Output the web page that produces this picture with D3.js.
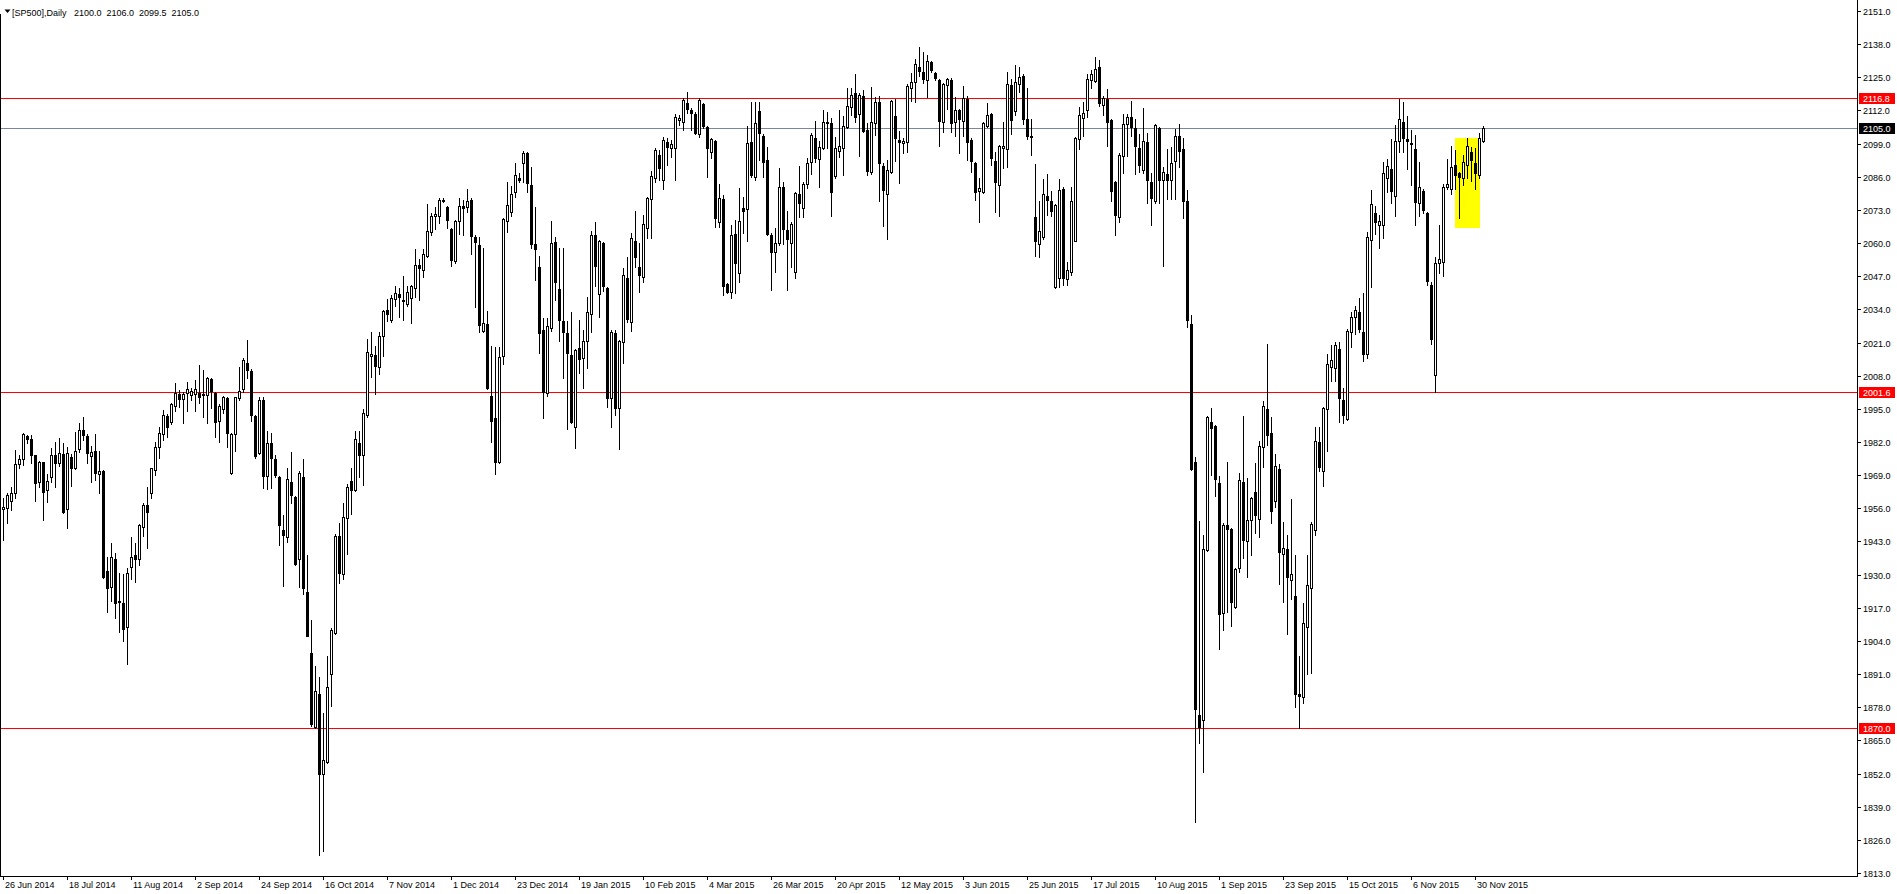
<!DOCTYPE html>
<html><head><meta charset="utf-8">
<script src="https://cdn.jsdelivr.net/npm/d3@7"></script>
<style>
html,body{margin:0;padding:0;background:#fff;overflow:hidden}
svg{display:block}
text{font-family:"Liberation Sans",Arial,sans-serif;font-size:9px;fill:#000}
</style></head><body>
<svg id="c" width="1897" height="894"></svg>
<script>
// ---------------- DATA ----------------
const symbolTitle = "[SP500],Daily";
const lastOHLC = ["2100.0", "2106.0", "2099.5", "2105.0"];

const open = [
1955.6,1956.0,1959.0,1961.9,1973.3,1975.2,1984.3,1983.0,1976.9,1966.5,
1974.0,1963.2,1968.4,1976.8,1973.6,1977.3,1955.6,1976.0,1971.7,1979.1,
1986.7,1984.3,1976.6,1978.3,1969.3,1970.5,1931.3,1925.0,1936.0,1919.8,
1919.0,1909.3,1932.9,1937.6,1936.0,1948.8,1957.3,1961.9,1971.0,1980.2,
1985.1,1992.2,1990.0,1996.1,2000.8,1998.7,2001.1,2000.3,2000.8,2001.3,
2000.3,2000.3,2006.6,2001.3,1990.4,1994.8,1999.1,1970.0,1985.1,1999.1,
2002.7,2013.1,2009.7,1992.1,1977.7,1998.4,1968.8,1981.7,1975.2,1968.1,
1947.4,1944.6,1966.4,1960.5,1936.0,1968.1,1923.0,1899.2,1870.4,1883.2,
1851.8,1856.6,1891.1,1907.0,1945.3,1930.3,1952.2,1966.9,1963.1,1981.5,
1976.9,1992.4,2015.7,2016.1,2011.4,2023.5,2033.8,2029.9,2038.1,2040.2,
2037.3,2036.1,2038.5,2042.3,2051.4,2049.4,2055.0,2064.4,2070.6,2070.6,
2077.0,2074.0,2065.4,2052.8,2068.8,2074.4,2074.0,2077.0,2062.3,2059.2,
2025.7,2028.1,2000.2,1991.6,1974.0,2015.9,2068.7,2072.1,2079.9,2085.4,
2091.3,2095.2,2082.8,2059.5,2050.8,2025.9,2001.1,2026.8,2060.3,2042.0,
2029.4,2024.6,2016.1,1988.0,2018.7,2015.1,2021.6,2032.1,2063.2,2039.9,
2059.9,2042.3,1999.1,2024.6,1995.5,2021.1,2046.4,2029.2,2060.8,2050.8,
2046.8,2065.8,2077.3,2085.4,2094.5,2084.7,2099.5,2097.1,2097.4,2108.3,
2107.3,2114.8,2112.2,2110.5,2102.6,2114.4,2105.6,2095.6,2100.0,2068.4,
2077.3,2043.8,2041.0,2063.4,2048.1,2073.6,2073.4,2099.5,2086.0,2111.8,
2102.1,2092.6,2063.2,2056.6,2059.9,2082.1,2065.1,2059.9,2048.5,2079.1,
2073.9,2083.0,2091.7,2101.1,2093.0,2097.4,2107.3,2106.9,2086.4,2096.1,
2097.4,2105.6,2113.5,2118.7,2110.5,2117.8,2104.3,2088.0,2106.9,2115.5,
2090.4,2079.1,2088.0,2110.0,2100.4,2099.1,2099.5,2120.9,2123.0,2129.2,
2126.9,2124.0,2131.1,2126.6,2123.9,2107.6,2122.0,2123.9,2107.3,2112.2,
2107.9,2116.5,2100.4,2091.3,2080.4,2080.2,2106.0,2110.5,2092.2,2082.9,
2097.3,2096.7,2121.8,2111.6,2122.4,2125.4,2108.8,2102.1,2070.3,2059.6,
2062.2,2078.4,2076.4,2042.8,2046.5,2081.3,2046.0,2048.5,2061.0,2100.7,
2109.2,2112.2,2123.8,2123.4,2129.0,2114.3,2116.3,2108.2,2083.9,2070.3,
2094.0,2106.8,2109.6,2105.2,2097.1,2088.6,2099.5,2083.9,2076.4,2105.2,
2084.9,2086.9,2084.9,2092.0,2102.1,2096.7,2076.4,2028.2,1974.0,1874.8,
1872.8,1939.6,1989.8,1988.2,1965.9,1914.9,1949.3,1947.7,1917.3,1932.7,
1966.5,1943.3,1951.5,1962.4,1952.0,1980.0,1995.1,1985.5,1958.9,1971.3,
1938.2,1939.9,1927.8,1921.6,1883.0,1882.0,1909.6,1924.7,1947.5,1982.0,
1970.5,1995.1,2011.4,2011.0,2018.3,1998.6,1991.2,2025.2,2030.9,2033.1,
2025.2,2016.5,2061.4,2071.7,2067.1,2067.1,2085.6,2089.0,2078.3,2099.9,
2107.3,2100.7,2099.4,2096.9,2075.7,2080.4,2071.7,2043.5,2008.4,2052.1,
2052.4,2081.8,2081.4,2090.7,2087.3,2085.5,2090.7,2095.6,2091.3,2086.6,
2100.0
];

const high = [
1959.9,1961.9,1964.2,1978.9,1976.9,1985.6,1984.7,1984.7,1976.9,1974.7,
1974.3,1969.5,1979.5,1982.1,1983.4,1981.5,1979.9,1977.3,1986.0,1989.3,
1991.7,1985.1,1980.4,1985.1,1978.6,1970.9,1937.0,1942.3,1938.3,1930.5,
1930.2,1932.5,1944.6,1942.3,1949.9,1957.9,1964.5,1971.7,1982.1,1988.0,
1994.5,1993.0,1997.4,2005.3,2002.4,2001.7,2005.7,2003.0,2006.3,2012.2,
2010.2,2007.6,2007.0,2001.7,1996.9,1999.9,1999.8,1985.5,1999.8,2011.3,
2014.8,2022.0,2010.5,1992.5,1999.8,1999.6,1986.4,1985.5,1976.9,1968.5,
1953.2,1971.7,1978.1,1960.8,1970.8,1975.2,1937.5,1912.2,1894.1,1889.7,
1875.9,1898.0,1909.1,1945.8,1950.1,1957.9,1965.7,1971.7,1986.4,1986.4,
1995.0,2022.3,2025.2,2019.5,2025.2,2033.8,2038.1,2039.5,2043.3,2042.4,
2047.1,2043.3,2043.7,2057.5,2053.7,2057.5,2075.2,2071.8,2074.0,2077.8,
2077.5,2074.7,2065.8,2069.2,2077.8,2077.0,2081.3,2077.8,2063.0,2062.3,
2058.0,2033.3,2019.5,2019.2,2019.4,2070.0,2083.8,2082.5,2091.3,2087.3,
2096.1,2095.9,2090.0,2074.3,2055.1,2030.5,2030.5,2068.7,2062.5,2058.0,
2058.0,2029.4,2033.1,2018.5,2029.8,2025.9,2039.0,2064.7,2068.4,2061.2,
2060.3,2042.7,2025.9,2025.9,2022.0,2050.4,2054.7,2063.8,2072.6,2059.9,
2071.0,2078.2,2088.3,2097.1,2096.5,2101.7,2101.1,2100.4,2110.5,2110.2,
2117.0,2119.1,2113.1,2111.3,2116.8,2114.8,2106.0,2101.2,2100.4,2083.0,
2078.8,2044.2,2067.1,2069.0,2081.5,2078.2,2106.0,2115.5,2115.5,2115.5,
2102.8,2097.8,2063.8,2065.8,2089.3,2084.1,2072.6,2068.4,2079.9,2090.4,
2084.1,2093.5,2103.0,2107.9,2100.0,2112.2,2111.3,2108.9,2101.7,2112.2,
2110.0,2120.9,2120.7,2126.2,2118.7,2120.0,2107.0,2121.3,2117.4,2117.8,
2091.3,2092.6,2116.1,2116.5,2104.0,2101.1,2122.2,2126.6,2132.2,2137.0,
2135.1,2133.7,2131.5,2127.0,2124.2,2122.6,2124.9,2124.9,2117.4,2112.6,
2121.7,2117.8,2101.1,2091.7,2085.7,2107.3,2114.8,2110.9,2095.9,2098.5,
2107.6,2127.0,2124.4,2129.9,2129.0,2126.4,2120.9,2108.8,2091.0,2076.4,
2085.3,2086.9,2080.4,2075.2,2085.3,2081.9,2052.5,2081.9,2101.5,2113.2,
2115.3,2126.4,2127.8,2133.1,2131.9,2117.7,2120.3,2108.6,2084.3,2095.4,
2110.8,2110.8,2115.7,2108.8,2102.7,2112.8,2103.1,2087.3,2106.8,2105.6,
2089.9,2096.7,2097.5,2104.7,2106.8,2101.1,2080.9,2031.9,1976.0,1950.9,
1945.6,1992.2,1995.4,1988.6,1968.5,1950.3,1974.0,1948.1,1932.7,1969.9,
1992.2,1967.7,1960.5,1973.9,1982.5,1998.1,2020.5,1991.7,1977.4,1973.4,
1950.6,1945.4,1959.6,1937.7,1898.0,1918.7,1937.7,1950.6,1987.7,1987.7,
1995.9,2016.5,2020.0,2021.4,2021.4,2003.3,2026.2,2033.1,2035.2,2038.3,
2040.3,2064.2,2080.9,2074.5,2071.0,2091.8,2093.0,2100.7,2106.3,2116.6,
2115.4,2109.7,2104.5,2102.5,2091.8,2081.4,2072.3,2044.6,2054.5,2067.1,
2083.1,2093.0,2098.2,2096.4,2087.7,2094.7,2101.1,2097.6,2097.3,2103.3,
2106.0
];

const low = [
1943.6,1950.1,1955.3,1959.9,1971.7,1973.0,1981.7,1973.9,1958.9,1964.5,
1951.4,1958.6,1966.5,1964.5,1972.6,1954.3,1948.4,1964.7,1971.3,1978.2,
1982.8,1973.6,1966.5,1967.1,1961.9,1928.5,1915.5,1919.8,1912.9,1907.6,
1904.1,1894.8,1928.2,1927.2,1933.8,1945.2,1940.3,1959.9,1969.1,1975.6,
1982.8,1984.1,1989.1,1994.3,1995.6,1989.6,1994.3,1998.5,1994.3,1997.4,
1991.9,1989.6,1995.2,1984.1,1982.1,1993.2,1979.9,1969.6,1978.6,1998.5,
2001.7,2007.0,1990.2,1975.6,1977.4,1963.9,1963.6,1963.9,1968.3,1941.5,
1925.6,1942.9,1957.9,1933.7,1925.1,1922.5,1905.8,1870.8,1869.9,1819.9,
1821.6,1856.1,1878.5,1906.7,1926.8,1928.1,1938.1,1953.6,1962.6,1968.3,
1965.3,1991.9,2007.4,2001.0,2008.8,2015.7,2029.5,2029.2,2035.5,2030.9,
2029.9,2035.5,2028.6,2039.0,2037.8,2046.8,2054.5,2063.2,2065.4,2067.8,
2076.1,2066.1,2051.1,2052.3,2063.7,2063.2,2072.3,2055.7,2035.0,2025.2,
2025.2,2002.8,1982.0,1969.5,1973.6,2012.5,2064.2,2070.8,2078.2,2084.1,
2084.1,2079.9,2057.9,2045.5,2016.8,1991.5,2000.0,2025.5,2037.7,2021.6,
2007.2,1987.1,1989.5,1979.5,2008.9,2003.3,2011.1,2025.0,2043.3,2031.1,
2041.2,1995.9,1988.0,1992.6,1979.3,2012.9,2028.9,2025.5,2050.8,2041.0,
2044.9,2061.9,2061.9,2084.1,2084.7,2081.2,2090.6,2093.9,2084.7,2106.3,
2104.3,2110.9,2104.3,2102.6,2101.7,2105.0,2086.1,2093.5,2066.4,2066.4,
2039.6,2040.3,2038.3,2040.3,2044.9,2063.8,2061.0,2086.0,2084.7,2092.6,
2086.0,2063.2,2041.6,2048.5,2059.2,2059.5,2041.6,2050.8,2046.2,2070.4,
2070.4,2081.7,2087.0,2091.7,2082.1,2096.9,2097.2,2070.7,2085.7,2093.9,
2086.7,2105.3,2110.2,2107.6,2094.3,2103.7,2086.7,2087.0,2102.4,2076.5,
2066.8,2061.6,2087.4,2092.2,2083.4,2095.2,2095.6,2115.7,2115.2,2125.6,
2122.6,2117.4,2127.2,2124.0,2098.2,2103.7,2112.6,2103.7,2102.1,2095.2,
2102.1,2092.6,2087.7,2076.9,2068.4,2079.5,2105.6,2090.6,2072.1,2070.5,
2089.4,2090.0,2102.7,2110.2,2119.3,2106.8,2100.7,2094.6,2054.9,2054.6,
2061.6,2071.2,2070.7,2042.4,2042.8,2043.4,2043.4,2047.5,2060.8,2097.0,
2102.1,2109.6,2120.9,2123.0,2113.7,2110.2,2098.1,2076.4,2063.1,2068.3,
2087.3,2094.0,2102.1,2086.9,2088.0,2087.3,2075.8,2067.1,2075.8,2075.8,
2050.9,2077.2,2077.2,2077.2,2090.0,2069.7,2027.2,1971.1,1832.9,1863.9,
1852.5,1939.2,1969.1,1961.0,1900.7,1908.4,1915.3,1909.8,1916.9,1931.1,
1936.7,1929.2,1937.7,1946.3,1944.6,1972.2,1980.8,1950.3,1956.7,1926.5,
1919.2,1906.6,1920.4,1878.2,1869.9,1879.5,1891.1,1891.6,1945.4,1970.5,
1964.8,1978.6,2005.8,2005.8,1990.0,1989.4,1990.7,2019.3,2024.5,2025.2,
2013.6,2014.8,2042.9,2063.6,2058.0,2061.9,2080.0,2075.7,2070.5,2095.6,
2095.6,2089.0,2082.6,2067.1,2070.5,2071.7,2043.5,2020.5,2001.5,2048.1,
2046.9,2081.4,2079.2,2081.4,2069.7,2082.6,2085.5,2084.3,2081.4,2085.5,
2099.5
];

const close = [
1956.6,1961.2,1961.9,1973.3,1975.2,1985.1,1983.0,1976.9,1966.1,1974.0,
1962.5,1966.8,1976.8,1973.9,1977.8,1954.7,1977.8,1971.7,1978.3,1986.9,
1984.7,1977.8,1977.9,1969.7,1970.5,1928.9,1924.6,1936.8,1919.0,1919.4,
1908.5,1930.8,1937.0,1936.0,1949.5,1957.3,1954.7,1971.7,1979.9,1985.7,
1992.5,1987.8,1996.9,2001.1,1999.0,2000.7,2002.7,2002.1,2002.7,1999.8,
2000.8,2007.0,2002.1,1990.0,1996.1,1999.5,1985.4,1985.1,1999.5,2002.1,
2014.2,2010.3,1992.4,1976.4,1998.4,1968.8,1981.7,1975.7,1969.1,1949.3,
1945.7,1967.4,1961.4,1934.1,1970.0,1924.6,1906.1,1871.3,1884.2,1851.8,
1857.3,1886.0,1908.4,1945.3,1930.8,1952.7,1964.3,1963.1,1983.3,1976.9,
1993.3,2017.1,2016.6,2011.9,2023.5,2033.5,2032.1,2038.5,2040.6,2039.0,
2037.8,2040.7,2043.3,2051.4,2050.2,2055.7,2064.7,2070.6,2071.4,2077.0,
2076.5,2069.2,2053.3,2068.8,2074.7,2073.7,2076.4,2062.6,2060.6,2027.8,
2028.6,2003.3,1990.2,1974.3,2015.5,2069.4,2074.9,2079.1,2086.7,2084.7,
2095.2,2083.4,2059.5,2057.7,2024.6,2001.5,2027.6,2059.9,2044.6,2029.8,
2025.0,2016.8,1990.0,2018.1,2014.5,2021.6,2032.8,2063.2,2051.1,2060.8,
2043.3,1999.4,2025.3,1995.5,2021.6,2047.5,2030.2,2061.9,2054.7,2047.5,
2067.3,2077.5,2086.4,2096.5,2089.3,2100.4,2097.8,2098.7,2109.6,2108.9,
2116.1,2112.6,2110.9,2103.0,2116.1,2106.0,2097.1,2100.8,2070.0,2077.5,
2043.3,2040.7,2063.2,2052.1,2068.7,2072.6,2099.1,2086.7,2106.9,2103.0,
2091.9,2063.4,2056.6,2059.9,2082.1,2065.5,2061.6,2067.4,2079.5,2075.6,
2083.0,2091.3,2102.4,2093.2,2097.8,2107.3,2106.9,2080.2,2097.2,2098.2,
2106.0,2113.9,2118.1,2109.6,2118.1,2103.9,2088.3,2107.3,2115.5,2091.3,
2080.8,2088.7,2115.7,2101.3,2099.8,2100.0,2121.7,2123.0,2130.1,2127.5,
2124.3,2131.4,2127.9,2124.9,2107.9,2122.2,2124.3,2106.9,2112.2,2108.7,
2117.0,2099.8,2092.2,2080.2,2081.7,2106.9,2110.2,2093.5,2083.8,2098.1,
2098.0,2122.4,2108.2,2123.0,2125.0,2108.8,2102.1,2101.5,2061.0,2064.7,
2079.2,2076.8,2072.4,2074.8,2080.9,2046.5,2049.5,2076.4,2101.1,2110.2,
2111.2,2124.4,2126.4,2128.4,2114.9,2116.9,2107.6,2080.5,2071.1,2094.6,
2106.8,2109.6,2105.6,2098.1,2090.6,2100.1,2084.9,2077.8,2106.2,2084.9,
2087.9,2084.9,2091.4,2102.1,2096.1,2076.4,2029.9,1971.6,1877.4,1870.3,
1940.2,1991.8,1987.3,1967.5,1914.5,1949.3,1947.7,1919.3,1932.1,1967.1,
1943.6,1951.4,1960.1,1953.2,1980.3,1996.3,1984.8,1954.9,1972.7,1938.9,
1940.6,1929.0,1930.3,1883.0,1882.5,1910.9,1926.1,1949.8,1982.5,1972.2,
1995.5,2012.7,2014.1,2020.0,1999.3,1992.4,2025.7,2030.9,2033.8,2026.5,
2016.5,2062.4,2075.2,2068.3,2068.8,2087.3,2090.1,2080.4,2099.9,2108.5,
2101.1,2100.2,2098.7,2076.2,2081.8,2073.1,2045.2,2022.2,2052.1,2053.8,
2082.1,2083.1,2090.0,2086.6,2086.1,2091.8,2098.2,2092.4,2087.3,2101.1,
2105.0
];

const timeLabels = ["26 Jun 2014","18 Jul 2014","11 Aug 2014","2 Sep 2014","24 Sep 2014",
  "16 Oct 2014","7 Nov 2014","1 Dec 2014","23 Dec 2014","19 Jan 2015","10 Feb 2015",
  "4 Mar 2015","26 Mar 2015","20 Apr 2015","12 May 2015","3 Jun 2015","25 Jun 2015",
  "17 Jul 2015","10 Aug 2015","1 Sep 2015","23 Sep 2015","15 Oct 2015","6 Nov 2015","30 Nov 2015"];
const barsPerTimeLabel = 16;

const priceTicks = [1813,1826,1839,1852,1865,1878,1891,1904,1917,1930,1943,1956,1969,1982,
  1995,2008,2021,2034,2047,2060,2073,2086,2099,2112,2125,2138,2151];

const levelLines = [2116.8, 2001.6, 1870.0];
const bidPrice = 2105.0;
const boxBars = [363, 369];
const boxPrices = [2101.2, 2065.9];

// ---------------- DRAW ----------------
const svg = d3.select("#c");
const plotRight = 1857, plotBottom = 876;
const n = close.length;

const x = d3.scaleLinear().domain([0, n - 1]).range([3, 3 + 4 * (n - 1)]);
const y = d3.scaleLinear().domain([1813, 2151]).range([873, 11]);
const px = i => Math.round(x(i));
const py = v => Math.round(y(v));

svg.append("rect").attr("width", 1897).attr("height", 894).attr("fill", "#fff");

const g = svg.append("g").attr("shape-rendering", "crispEdges");

// yellow rectangle object
g.append("rect")
  .attr("x", px(boxBars[0])).attr("y", py(boxPrices[0]))
  .attr("width", px(boxBars[1]) - px(boxBars[0]) + 1)
  .attr("height", py(boxPrices[1]) - py(boxPrices[0]))
  .attr("fill", "#ffff00");

// horizontal level lines
g.selectAll("line.lvl").data(levelLines).enter().append("line")
  .attr("x1", 0).attr("x2", plotRight)
  .attr("y1", d => py(d) + 0.5).attr("y2", d => py(d) + 0.5)
  .attr("stroke", "#ff0000").attr("stroke-width", 1);
g.append("line").attr("x1", 0).attr("x2", plotRight)
  .attr("y1", py(bidPrice) + 0.5).attr("y2", py(bidPrice) + 0.5)
  .attr("stroke", "#778899").attr("stroke-width", 1);

// candles
const bars = d3.range(n);
const cg = g.append("g");
cg.selectAll("line.w").data(bars).enter().append("line")
  .attr("x1", i => px(i) + 0.5).attr("x2", i => px(i) + 0.5)
  .attr("y1", i => py(high[i])).attr("y2", i => py(low[i]) + 1)
  .attr("stroke", "#000").attr("stroke-width", 1);

cg.selectAll("rect.b").data(bars).enter().append("rect")
  .each(function (i) {
    const el = d3.select(this);
    const yo = py(open[i]), yc = py(close[i]);
    const cx = px(i);
    if (yo === yc) {
      el.attr("x", cx - 1).attr("y", yo).attr("width", 3).attr("height", 1).attr("fill", "#000");
    } else if (close[i] > open[i]) {
      el.attr("x", cx - 0.5).attr("y", yc + 0.5).attr("width", 2).attr("height", yo - yc)
        .attr("fill", "#fff").attr("stroke", "#000").attr("stroke-width", 1);
    } else {
      el.attr("x", cx - 1).attr("y", yo).attr("width", 3).attr("height", yc - yo + 1).attr("fill", "#000");
    }
  });

// frame
g.append("line").attr("x1", plotRight + 0.5).attr("x2", plotRight + 0.5).attr("y1", 0).attr("y2", plotBottom + 1).attr("stroke", "#000");
g.append("line").attr("x1", 0).attr("x2", plotRight + 1).attr("y1", plotBottom + 0.5).attr("y2", plotBottom + 0.5).attr("stroke", "#000");
g.append("line").attr("x1", 0.5).attr("x2", 0.5).attr("y1", 14).attr("y2", plotBottom + 1).attr("stroke", "#000");

// price axis
const pa = svg.append("g");
pa.selectAll("line").data(priceTicks).enter().append("line")
  .attr("shape-rendering", "crispEdges")
  .attr("x1", plotRight + 1).attr("x2", plotRight + 4)
  .attr("y1", d => py(d) + 0.5).attr("y2", d => py(d) + 0.5).attr("stroke", "#000");
pa.selectAll("text").data(priceTicks).enter().append("text")
  .attr("x", plotRight + 6).attr("y", d => py(d) + 3.5)
  .text(d => d.toFixed(1));

// price markers
function marker(v, color) {
  const yy = py(v);
  svg.append("rect").attr("shape-rendering", "crispEdges")
    .attr("x", plotRight + 2).attr("y", yy - 5).attr("width", 36).attr("height", 11).attr("fill", color);
  svg.append("text").attr("x", plotRight + 6).attr("y", yy + 3.5).style("fill", "#fff").text(v.toFixed(1));
}
levelLines.forEach(v => marker(v, "#ff0000"));
marker(bidPrice, "#000000");

// time axis
const tIdx = timeLabels.map((t, k) => k * barsPerTimeLabel);
const ta = svg.append("g");
ta.selectAll("line").data(tIdx).enter().append("line")
  .attr("shape-rendering", "crispEdges")
  .attr("x1", i => px(i) + 0.5).attr("x2", i => px(i) + 0.5)
  .attr("y1", plotBottom + 1).attr("y2", plotBottom + 4).attr("stroke", "#000");
ta.selectAll("text").data(tIdx).enter().append("text")
  .attr("x", i => px(i) + 2).attr("y", 888)
  .text((i, k) => timeLabels[k]);

// title
svg.append("path").attr("d", "M4.5,9.5 L10.5,9.5 L7.5,13 Z").attr("fill", "#000");
svg.append("text").attr("x", 12).attr("y", 16).text(symbolTitle);
svg.append("text").attr("x", 74).attr("y", 16).attr("xml:space", "preserve")
  .style("white-space", "pre").text(lastOHLC.join("  "));
</script>
</body></html>
